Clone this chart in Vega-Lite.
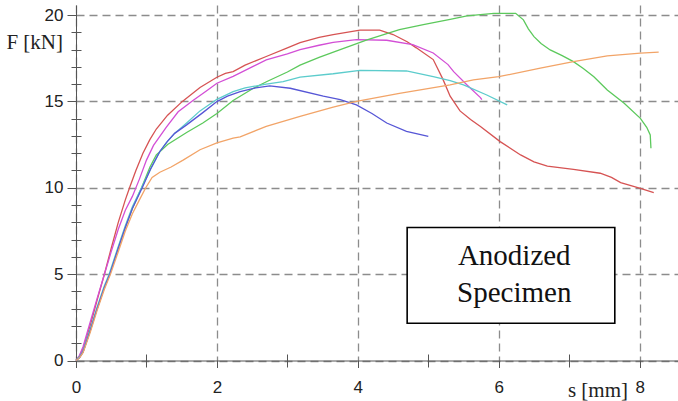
{
  "$schema": "https://vega.github.io/schema/vega-lite/v6.json",
  "autosize": {"type": "none"},
  "width": 602,
  "height": 355.5,
  "padding": {"left": 76, "top": 5, "right": 0, "bottom": 40.5},
  "background": "white",
  "config": {"view": {"stroke": null}},
  "datasets": {
    "curves": [
      {"s":"red","x":0,"y":0},{"s":"red","x":0.05,"y":0.25},{"s":"red","x":0.1,"y":0.7},{"s":"red","x":0.2,"y":2.0},{"s":"red","x":0.3,"y":3.5},{"s":"red","x":0.4,"y":4.95},{"s":"red","x":0.5,"y":6.5},{"s":"red","x":0.6,"y":8.0},{"s":"red","x":0.7,"y":9.3},{"s":"red","x":0.76,"y":10.0},{"s":"red","x":0.85,"y":11.0},{"s":"red","x":0.95,"y":12.0},{"s":"red","x":1.05,"y":12.8},{"s":"red","x":1.14,"y":13.4},{"s":"red","x":1.3,"y":14.2},{"s":"red","x":1.51,"y":15.0},{"s":"red","x":1.76,"y":15.8},{"s":"red","x":2.0,"y":16.4},{"s":"red","x":2.12,"y":16.62},{"s":"red","x":2.23,"y":16.72},{"s":"red","x":2.4,"y":17.1},{"s":"red","x":2.7,"y":17.6},{"s":"red","x":3.0,"y":18.1},{"s":"red","x":3.18,"y":18.4},{"s":"red","x":3.45,"y":18.7},{"s":"red","x":3.65,"y":18.87},{"s":"red","x":4.03,"y":19.12},{"s":"red","x":4.31,"y":19.12},{"s":"red","x":4.5,"y":18.87},{"s":"red","x":4.7,"y":18.45},{"s":"red","x":4.83,"y":18.1},{"s":"red","x":5.07,"y":17.42},{"s":"red","x":5.21,"y":16.26},{"s":"red","x":5.31,"y":15.3},{"s":"red","x":5.45,"y":14.45},{"s":"red","x":5.6,"y":13.95},{"s":"red","x":5.74,"y":13.55},{"s":"red","x":6.02,"y":12.67},{"s":"red","x":6.31,"y":11.9},{"s":"red","x":6.5,"y":11.5},{"s":"red","x":6.69,"y":11.25},{"s":"red","x":7.06,"y":11.07},{"s":"red","x":7.44,"y":10.84},{"s":"red","x":7.6,"y":10.6},{"s":"red","x":7.73,"y":10.3},{"s":"red","x":8.01,"y":9.97},{"s":"red","x":8.2,"y":9.72},
      {"s":"magenta","x":0,"y":0},{"s":"magenta","x":0.05,"y":0.3},{"s":"magenta","x":0.1,"y":0.8},{"s":"magenta","x":0.2,"y":2.2},{"s":"magenta","x":0.3,"y":3.6},{"s":"magenta","x":0.4,"y":4.95},{"s":"magenta","x":0.5,"y":6.3},{"s":"magenta","x":0.6,"y":7.6},{"s":"magenta","x":0.7,"y":8.7},{"s":"magenta","x":0.8,"y":9.5},{"s":"magenta","x":0.9,"y":10.5},{"s":"magenta","x":1.0,"y":11.6},{"s":"magenta","x":1.1,"y":12.45},{"s":"magenta","x":1.28,"y":13.5},{"s":"magenta","x":1.45,"y":14.4},{"s":"magenta","x":1.66,"y":15.05},{"s":"magenta","x":1.85,"y":15.6},{"s":"magenta","x":2.0,"y":16.05},{"s":"magenta","x":2.23,"y":16.45},{"s":"magenta","x":2.5,"y":17.0},{"s":"magenta","x":2.7,"y":17.4},{"s":"magenta","x":3.0,"y":17.75},{"s":"magenta","x":3.18,"y":18.0},{"s":"magenta","x":3.45,"y":18.25},{"s":"magenta","x":3.65,"y":18.42},{"s":"magenta","x":3.98,"y":18.58},{"s":"magenta","x":4.41,"y":18.54},{"s":"magenta","x":4.78,"y":18.29},{"s":"magenta","x":5.07,"y":17.8},{"s":"magenta","x":5.28,"y":17.13},{"s":"magenta","x":5.36,"y":16.72},{"s":"magenta","x":5.55,"y":15.95},{"s":"magenta","x":5.74,"y":15.22},{"s":"magenta","x":5.76,"y":15.1},
      {"s":"green","x":0,"y":0},{"s":"green","x":0.05,"y":0.2},{"s":"green","x":0.1,"y":0.5},{"s":"green","x":0.2,"y":1.7},{"s":"green","x":0.3,"y":3.0},{"s":"green","x":0.4,"y":4.2},{"s":"green","x":0.48,"y":5.0},{"s":"green","x":0.6,"y":6.5},{"s":"green","x":0.7,"y":7.7},{"s":"green","x":0.8,"y":8.8},{"s":"green","x":0.93,"y":10.0},{"s":"green","x":1.05,"y":11.2},{"s":"green","x":1.14,"y":11.9},{"s":"green","x":1.3,"y":12.5},{"s":"green","x":1.57,"y":13.2},{"s":"green","x":1.8,"y":13.75},{"s":"green","x":2.0,"y":14.3},{"s":"green","x":2.23,"y":15.05},{"s":"green","x":2.5,"y":15.72},{"s":"green","x":2.71,"y":16.15},{"s":"green","x":3.0,"y":16.7},{"s":"green","x":3.18,"y":17.1},{"s":"green","x":3.45,"y":17.55},{"s":"green","x":3.75,"y":18.0},{"s":"green","x":4.12,"y":18.55},{"s":"green","x":4.59,"y":19.15},{"s":"green","x":4.93,"y":19.45},{"s":"green","x":5.31,"y":19.75},{"s":"green","x":5.55,"y":19.95},{"s":"green","x":5.93,"y":20.1},{"s":"green","x":6.24,"y":20.1},{"s":"green","x":6.35,"y":19.72},{"s":"green","x":6.42,"y":19.2},{"s":"green","x":6.5,"y":18.75},{"s":"green","x":6.6,"y":18.35},{"s":"green","x":6.73,"y":17.98},{"s":"green","x":6.9,"y":17.65},{"s":"green","x":7.06,"y":17.3},{"s":"green","x":7.2,"y":16.9},{"s":"green","x":7.35,"y":16.43},{"s":"green","x":7.54,"y":15.66},{"s":"green","x":7.78,"y":14.89},{"s":"green","x":8.01,"y":14.02},{"s":"green","x":8.1,"y":13.5},{"s":"green","x":8.15,"y":13.06},{"s":"green","x":8.16,"y":12.29},
      {"s":"cyan","x":0,"y":0},{"s":"cyan","x":0.05,"y":0.2},{"s":"cyan","x":0.1,"y":0.55},{"s":"cyan","x":0.2,"y":1.8},{"s":"cyan","x":0.3,"y":3.1},{"s":"cyan","x":0.4,"y":4.3},{"s":"cyan","x":0.47,"y":5.0},{"s":"cyan","x":0.6,"y":6.6},{"s":"cyan","x":0.7,"y":7.8},{"s":"cyan","x":0.8,"y":8.9},{"s":"cyan","x":0.93,"y":10.0},{"s":"cyan","x":1.05,"y":11.0},{"s":"cyan","x":1.19,"y":12.1},{"s":"cyan","x":1.28,"y":12.6},{"s":"cyan","x":1.4,"y":13.15},{"s":"cyan","x":1.57,"y":13.75},{"s":"cyan","x":1.76,"y":14.45},{"s":"cyan","x":2.0,"y":15.12},{"s":"cyan","x":2.23,"y":15.57},{"s":"cyan","x":2.4,"y":15.78},{"s":"cyan","x":2.7,"y":16.0},{"s":"cyan","x":2.94,"y":16.15},{"s":"cyan","x":3.18,"y":16.4},{"s":"cyan","x":3.65,"y":16.6},{"s":"cyan","x":4.03,"y":16.8},{"s":"cyan","x":4.69,"y":16.76},{"s":"cyan","x":5.07,"y":16.44},{"s":"cyan","x":5.31,"y":16.2},{"s":"cyan","x":5.5,"y":15.95},{"s":"cyan","x":5.83,"y":15.37},{"s":"cyan","x":6.12,"y":14.8},
      {"s":"blue","x":0,"y":0},{"s":"blue","x":0.05,"y":0.15},{"s":"blue","x":0.1,"y":0.5},{"s":"blue","x":0.2,"y":1.7},{"s":"blue","x":0.3,"y":3.0},{"s":"blue","x":0.4,"y":4.2},{"s":"blue","x":0.48,"y":5.0},{"s":"blue","x":0.6,"y":6.5},{"s":"blue","x":0.7,"y":7.7},{"s":"blue","x":0.8,"y":8.8},{"s":"blue","x":0.94,"y":10.0},{"s":"blue","x":1.06,"y":11.1},{"s":"blue","x":1.19,"y":12.1},{"s":"blue","x":1.3,"y":12.7},{"s":"blue","x":1.4,"y":13.15},{"s":"blue","x":1.57,"y":13.64},{"s":"blue","x":1.8,"y":14.35},{"s":"blue","x":2.0,"y":14.99},{"s":"blue","x":2.15,"y":15.3},{"s":"blue","x":2.33,"y":15.56},{"s":"blue","x":2.55,"y":15.78},{"s":"blue","x":2.75,"y":15.9},{"s":"blue","x":3.04,"y":15.76},{"s":"blue","x":3.51,"y":15.3},{"s":"blue","x":3.75,"y":15.1},{"s":"blue","x":3.98,"y":14.8},{"s":"blue","x":4.2,"y":14.3},{"s":"blue","x":4.41,"y":13.75},{"s":"blue","x":4.69,"y":13.26},{"s":"blue","x":5.0,"y":12.97},
      {"s":"orange","x":0,"y":0},{"s":"orange","x":0.05,"y":0.15},{"s":"orange","x":0.1,"y":0.45},{"s":"orange","x":0.2,"y":1.6},{"s":"orange","x":0.3,"y":2.9},{"s":"orange","x":0.4,"y":4.1},{"s":"orange","x":0.49,"y":5.0},{"s":"orange","x":0.6,"y":6.3},{"s":"orange","x":0.7,"y":7.5},{"s":"orange","x":0.8,"y":8.5},{"s":"orange","x":0.9,"y":9.3},{"s":"orange","x":0.99,"y":10.0},{"s":"orange","x":1.08,"y":10.6},{"s":"orange","x":1.19,"y":10.9},{"s":"orange","x":1.35,"y":11.2},{"s":"orange","x":1.52,"y":11.6},{"s":"orange","x":1.76,"y":12.2},{"s":"orange","x":2.0,"y":12.6},{"s":"orange","x":2.23,"y":12.88},{"s":"orange","x":2.33,"y":12.95},{"s":"orange","x":2.7,"y":13.55},{"s":"orange","x":3.18,"y":14.13},{"s":"orange","x":3.65,"y":14.67},{"s":"orange","x":3.98,"y":15.0},{"s":"orange","x":4.59,"y":15.47},{"s":"orange","x":5.31,"y":15.95},{"s":"orange","x":5.64,"y":16.24},{"s":"orange","x":6.0,"y":16.43},{"s":"orange","x":6.59,"y":16.92},{"s":"orange","x":7.06,"y":17.3},{"s":"orange","x":7.54,"y":17.63},{"s":"orange","x":8.01,"y":17.79},{"s":"orange","x":8.27,"y":17.85}
    ],
    "box": [{"x0": 4.70, "x1": 7.647, "y0": 2.157, "y1": 7.70}],
    "label": [
      {"t": "Anodized", "tx": 6.22, "ty": 5.536},
      {"t": "Specimen", "tx": 6.22, "ty": 3.41}
    ]
  },
  "resolve": {"axis": {"x": "independent", "y": "independent"}},
  "layer": [
    {
      "data": {"name": "curves"},
      "mark": {"type": "line", "strokeWidth": 1.3, "interpolate": "linear"},
      "encoding": {
        "x": {
          "field": "x", "type": "quantitative",
          "scale": {"domain": [0, 8.544], "nice": false, "zero": false},
          "axis": {
            "orient": "bottom",
            "title": "s [mm]",
            "titleFont": "Liberation Serif", "titleFontSize": 21, "titleFontWeight": "normal", "titleColor": "#222",
            "titleX": 551.5, "titleY": 36, "titleAlign": "right", "titleBaseline": "alphabetic", "titleAnchor": null,
            "values": [0, 2, 4, 6, 8],
            "format": "d",
            "labelOverlap": false, "labelFlush": false,
            "labelFont": "Liberation Sans", "labelFontSize": 17, "labelColor": "#222",
            "labelPadding": 12, "tickSize": 7,
            "domainColor": "#555", "tickColor": "#555", "domainWidth": 1, "tickWidth": 1,
            "grid": true, "gridColor": "#8c8c8c", "gridDash": [8, 5], "gridWidth": 1.3
          }
        },
        "y": {
          "field": "y", "type": "quantitative",
          "scale": {"domain": [0, 20.58], "nice": false},
          "axis": {
            "orient": "left",
            "title": "F [kN]",
            "titleFont": "Liberation Serif", "titleFontSize": 21, "titleFontWeight": "normal", "titleColor": "#222",
            "titleAngle": 0, "titleX": -13.5, "titleY": 43.5, "titleAlign": "right", "titleBaseline": "alphabetic", "titleAnchor": null,
            "values": [0, 5, 10, 15, 20],
            "format": "d",
            "labelOverlap": false, "labelFlush": false,
            "labelFont": "Liberation Sans", "labelFontSize": 17, "labelColor": "#222",
            "labelPadding": 4, "tickSize": 9,
            "domainColor": "#555", "tickColor": "#555", "domainWidth": 1, "tickWidth": 1,
            "grid": true, "gridColor": "#8c8c8c", "gridDash": [8, 5], "gridWidth": 1.3
          }
        },
        "color": {
          "field": "s", "type": "nominal", "legend": null,
          "scale": {
            "domain": ["orange", "blue", "cyan", "green", "magenta", "red"],
            "range": ["#f2a468", "#5656d6", "#5ccccc", "#5cc95c", "#d34fd6", "#d65353"]
          }
        },
        "order": {"field": "x", "type": "quantitative"}
      }
    },
    {
      "data": {"name": "box"},
      "mark": {"type": "rect", "fill": "white", "stroke": "black", "strokeWidth": 1.6},
      "encoding": {
        "x": {
          "field": "x0", "type": "quantitative",
          "axis": {
            "orient": "bottom", "offset": -6.5, "values": [1, 3, 5, 7], "tickCount": 20,
            "tickSize": 13, "tickColor": "#555", "tickWidth": 1,
            "domain": false, "labels": false, "grid": false, "title": null
          }
        },
        "x2": {"field": "x1"},
        "y": {
          "field": "y0", "type": "quantitative",
          "axis": {
            "orient": "left", "offset": -5, "values": [1,2,3,4,6,7,8,9,11,12,13,14,16,17,18,19], "tickCount": 40,
            "tickSize": 10, "tickColor": "#555", "tickWidth": 1,
            "domain": false, "labels": false, "grid": false, "title": null
          }
        },
        "y2": {"field": "y1"}
      }
    },
    {
      "data": {"name": "label"},
      "mark": {"type": "text", "font": "Liberation Serif", "fontSize": 29, "color": "#111", "align": "center", "baseline": "alphabetic"},
      "encoding": {
        "x": {"field": "tx", "type": "quantitative", "axis": null},
        "y": {"field": "ty", "type": "quantitative", "axis": null},
        "text": {"field": "t", "type": "nominal"}
      }
    }
  ]
}
